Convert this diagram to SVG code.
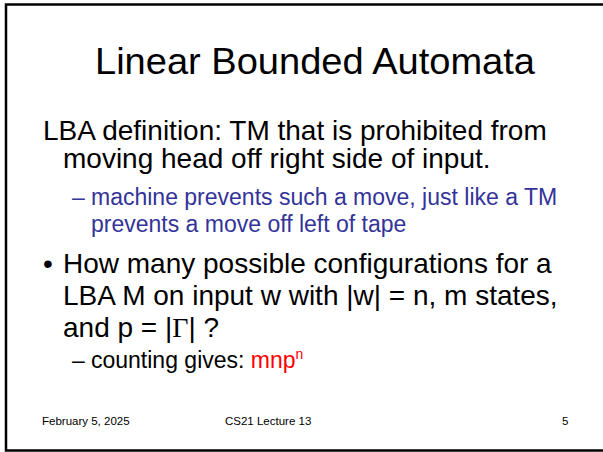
<svg xmlns="http://www.w3.org/2000/svg" width="603" height="452" viewBox="0 0 603 452">
<style>
text{font-family:"Liberation Sans",Arial,sans-serif;fill:#000}
.t{font-size:37px}
.b{font-size:28px}
.s{font-size:23px}
.blue{fill:#333399}
.red{fill:#ff0000}
.f{font-size:11.5px}
</style>
<rect x="0" y="0" width="603" height="452" fill="#fff"/>
<rect x="6" y="4.5" width="620" height="446" fill="none" stroke="#000" stroke-width="2.5"/>
<g id="title"><text class="t" x="95" y="74" textLength="440" lengthAdjust="spacingAndGlyphs">Linear Bounded Automata</text></g>
<g id="body">
<text class="b" x="43" y="140">LBA definition: TM that is prohibited from</text>
<text class="b" x="63" y="168">moving head off right side of input.</text>
<text class="s blue" x="72" y="205">–</text>
<text class="s blue" x="91" y="205">machine prevents such a move, just like a TM</text>
<text class="s blue" x="91" y="232">prevents a move off left of tape</text>
<text class="b" x="43" y="273">•</text>
<text class="b" x="63" y="273">How many possible configurations for a</text>
<text class="b" x="63" y="305">LBA M on input w with |w| = n, m states,</text>
<text class="b" x="63" y="337">and p = |<tspan font-family="'Liberation Serif',serif">Γ</tspan>| ?</text>
<text class="s" x="72" y="368">–</text>
<text class="s" x="91" y="368">counting gives: <tspan class="red">mnp<tspan font-size="14" dy="-9">n</tspan></tspan></text>
</g>
<g id="footer">
<text class="f" x="42" y="425">February 5, 2025</text>
<text class="f" x="225" y="425">CS21 Lecture 13</text>
<text class="f" x="562" y="425">5</text>
</g>
</svg>
